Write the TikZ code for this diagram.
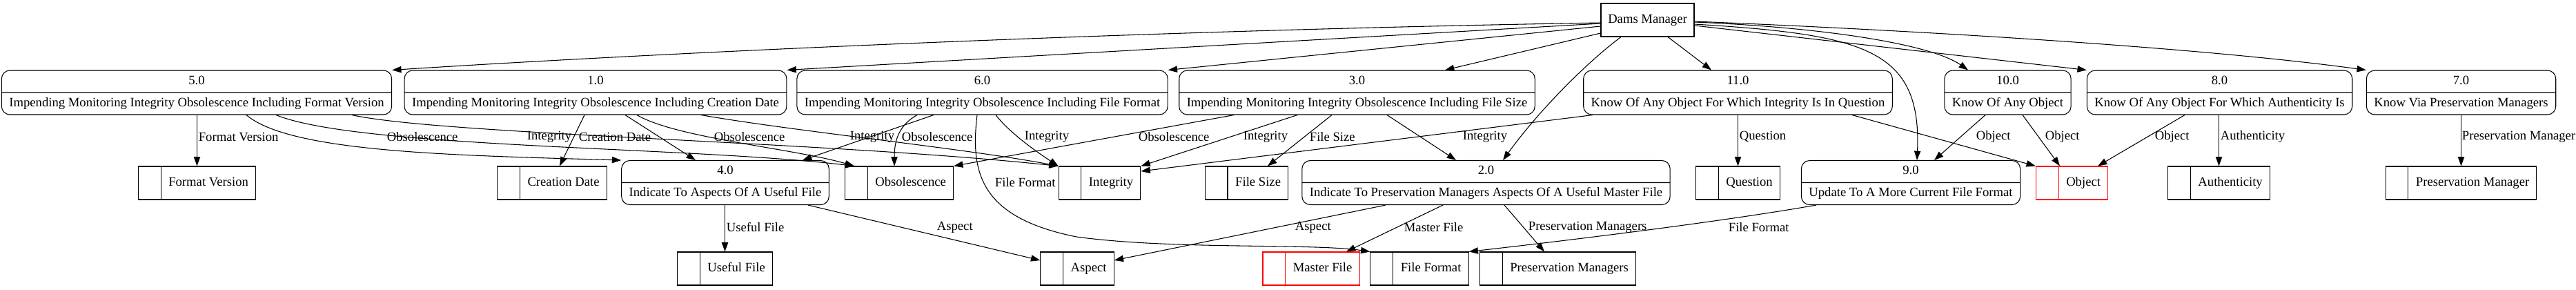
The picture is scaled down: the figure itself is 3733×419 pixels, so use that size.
\documentclass[tikz,border=0pt]{standalone}
\usepackage{fontspec}
\setmainfont{Liberation Serif}
\usetikzlibrary{arrows.meta,shapes,calc}

\tikzset{
  proc/.style={draw, rectangle split, rectangle split parts=2, rounded corners=9pt,
    inner xsep=8.25pt, inner ysep=3.2pt},
  store/.style={draw, rectangle split, rectangle split horizontal, rectangle split parts=2,
    inner xsep=8pt, inner ysep=9.6pt, rectangle split empty part width=3.5pt},
  agent/.style={draw, rectangle, minimum width=101.25pt, minimum height=36pt, inner sep=2pt},
  flow/.style={-{Triangle[length=10pt,width=7pt]}},
  lbl/.style={anchor=west, inner sep=1pt},
}

\begin{document}
\begin{tikzpicture}[x=0.75pt, y=-0.75pt, line width=0.8pt, font=\fontsize{14}{16.8}\selectfont]
  \useasboundingbox (0,0) rectangle (3733,419);

  % external entity
  \node[agent] (dams) at (2387.5,29) {Dams Manager};

  % processes, upper row
  \node[proc] (p5) at (285,134) {5.0\strut\nodepart{two}Impending Monitoring Integrity Obsolescence Including Format Version\strut};
  \node[proc] (p1) at (863,134) {1.0\strut\nodepart{two}Impending Monitoring Integrity Obsolescence Including Creation Date\strut};
  \node[proc] (p6) at (1423.5,134) {6.0\strut\nodepart{two}Impending Monitoring Integrity Obsolescence Including File Format\strut};
  \node[proc] (p3) at (1966.5,134) {3.0\strut\nodepart{two}Impending Monitoring Integrity Obsolescence Including File Size\strut};
  \node[proc] (p11) at (2518.5,134) {11.0\strut\nodepart{two}Know Of Any Object For Which Integrity Is In Question\strut};
  \node[proc] (p10) at (2909.5,134) {10.0\strut\nodepart{two}Know Of Any Object\strut};
  \node[proc] (p8) at (3216.5,134) {8.0\strut\nodepart{two}Know Of Any Object For Which Authenticity Is\strut};
  \node[proc] (p7) at (3566.5,134) {7.0\strut\nodepart{two}Know Via Preservation Managers\strut};

  % processes, lower row
  \node[proc] (p4) at (1051,264.5) {4.0\strut\nodepart{two}Indicate To Aspects Of A Useful File\strut};
  \node[proc] (p2) at (2153.5,264.5) {2.0\strut\nodepart{two}Indicate To Preservation Managers Aspects Of A Useful Master File\strut};
  \node[proc] (p9) at (2769,264.5) {9.0\strut\nodepart{two}Update To A More Current File Format\strut};

  % data stores
  \node[store] (fv) at (285.5,265) {\nodepart{two}Format Version\strut};
  \node[store] (cd) at (800,265) {\nodepart{two}Creation Date\strut};
  \node[store] (obs) at (1303,265) {\nodepart{two}Obsolescence\strut};
  \node[store] (integ) at (1593.5,265) {\nodepart{two}Integrity\strut};
  \node[store] (fsize) at (1806.5,265) {\nodepart{two}File Size\strut};
  \node[store] (quest) at (2518.5,265) {\nodepart{two}Question\strut};
  \node[store, draw=red] (obj) at (3002.5,265) {\nodepart{two}Object\strut};
  \node[store] (auth) at (3215.5,265) {\nodepart{two}Authenticity\strut};
  \node[store] (pmgr) at (3566.5,265) {\nodepart{two}Preservation Manager\strut};
  \node[store] (useful) at (1050.5,389) {\nodepart{two}Useful File\strut};
  \node[store] (aspect) at (1561,389) {\nodepart{two}Aspect\strut};
  \node[store, draw=red] (master) at (1900,389) {\nodepart{two}Master File\strut};
  \node[store] (fformat) at (2057,389) {\nodepart{two}File Format\strut};
  \node[store] (pmgrs) at (2257.5,389) {\nodepart{two}Preservation Managers\strut};

  % Dams Manager flows
  \draw[flow] (dams.west |- 0,33) .. controls (1600,45) and (900,80) .. (p5.north east);
  \draw[flow] (dams.west |- 0,34) -- (p1.north east);
  \draw[flow] (dams.west |- 0,38) -- (p6.north east);
  \draw[flow] (dams.west |- 0,48) -- (p3.north -| 2094,0);
  \draw[flow] (dams.south -| 2349,0) .. controls (2300,90) and (2230,160) .. (p2.north -| 2178,0);
  \draw[flow] (dams.south -| 2417,0) -- (p11.north -| 2480,0);
  \draw[flow] (dams.east |- 0,35) .. controls (2700,50) and (2785,70) .. (p9.north -| 2778,0);
  \draw[flow] (dams.east |- 0,32) .. controls (2650,40) and (2800,65) .. (p10.north -| 2852,0);
  \draw[flow] (dams.east |- 0,37) -- (p8.north west);
  \draw[flow] (dams.east |- 0,31) .. controls (2800,45) and (3200,70) .. (p7.north west);

  % 5.0
  \draw[flow] (p5.south -| fv.north) -- (fv.north) node[lbl] at (286,198) {Format Version};
  \draw[flow] (p5.south -| 357,0) .. controls (420,220) and (650,225) .. (p4.north west);
  \draw[flow] (p5.south -| 400,0) .. controls (520,215) and (1000,212) .. (obs.north -| 1238,0) node[lbl] at (559,198) {Obsolescence};
  \draw[flow] (p5.south -| 510,0) .. controls (640,195) and (1200,205) .. (integ.north west) node[lbl] at (762,198) {Integrity};

  % 1.0
  \draw[flow] (p1.south -| 847,0) -- (cd.north -| 811,0) node[lbl] at (837,198) {Creation Date};
  \draw[flow] (p1.south -| 906,0) -- (p4.north -| 1008,0);
  \draw[flow] (p1.south -| 923,0) .. controls (980,200) and (1150,215) .. (obs.north -| 1238,0) node[lbl] at (1033,198) {Obsolescence};
  \draw[flow] (p1.south -| 1016,0) .. controls (1150,190) and (1400,215) .. (integ.north west) node[lbl] at (1230,198) {Integrity};

  % 6.0
  \draw[flow] (p6.south -| 1329,0) .. controls (1305,180) and (1296,200) .. (obs.north -| 1296,0) node[lbl] at (1305,198) {Obsolescence};
  \draw[flow] (p6.south -| 1353,0) -- (p4.north -| 1163,0);
  \draw[flow] (p6.south -| 1443,0) .. controls (1465,195) and (1510,225) .. (integ.north west) node[lbl] at (1483,198) {Integrity};
  \draw[flow] (p6.south -| 1416,0) .. controls (1406,250) and (1420,315) .. (1560,343)
    .. controls (1700,362) and (1900,352) .. (fformat.north west) node[lbl] at (1440,264) {File Format};

  % 3.0
  \draw[flow] (p3.south -| 1788,0) -- (obs.north east) node[lbl] at (1648,198) {Obsolescence};
  \draw[flow] (p3.south -| 1880,0) -- (integ.north east) node[lbl] at (1800,198) {Integrity};
  \draw[flow] (p3.south -| 1930,0) -- (fsize.north -| 1837,0) node[lbl] at (1896,198) {File Size};
  \draw[flow] (p3.south -| 2010,0) -- (p2.north -| 2110,0);

  % 11.0
  \draw[flow] (p11.south -| 2308,0) -- (integ.east |- 0,248) node[lbl] at (2118,198) {Integrity};
  \draw[flow] (p11.south -| quest.north) -- (quest.north) node[lbl] at (2519,198) {Question};
  \draw[flow] (p11.south -| 2684,0) -- (obj.north west) node[lbl] at (2862,198) {Object};

  % 10.0
  \draw[flow] (p10.south -| 2877,0) -- (p9.north -| 2803,0);
  \draw[flow] (p10.south -| 2931,0) -- (obj.north -| 2985,0) node[lbl] at (2962,198) {Object};

  % 8.0
  \draw[flow] (p8.south -| 3166,0) -- (obj.north -| 3040,0) node[lbl] at (3121,198) {Object};
  \draw[flow] (p8.south -| auth.north) -- (auth.north) node[lbl] at (3216,198) {Authenticity};

  % 7.0
  \draw[flow] (p7.south -| pmgr.north) -- (pmgr.north) node[lbl] at (3566,198) {Preservation Manager};

  % 4.0
  \draw[flow] (p4.south -| useful.north) -- (useful.north) node[lbl] at (1051,329) {Useful File};
  \draw[flow] (p4.south -| 1171,0) -- (aspect.west |- 0,377) node[lbl] at (1356,329) {Aspect};

  % 2.0
  \draw[flow] (p2.south -| 2008,0) -- (aspect.east |- 0,377) node[lbl] at (1875,329) {Aspect};
  \draw[flow] (p2.south -| 2091,0) -- (master.north -| 1951,0) node[lbl] at (2033,329) {Master File};
  \draw[flow] (p2.south -| 2180,0) -- (pmgrs.north -| 2238,0) node[lbl] at (2213,329) {Preservation Managers};

  % 9.0
  \draw[flow] (p9.south -| 2632,0) .. controls (2500,320) and (2300,345) .. (fformat.north east) node[lbl] at (2503,329) {File Format};
\end{tikzpicture}
\end{document}
